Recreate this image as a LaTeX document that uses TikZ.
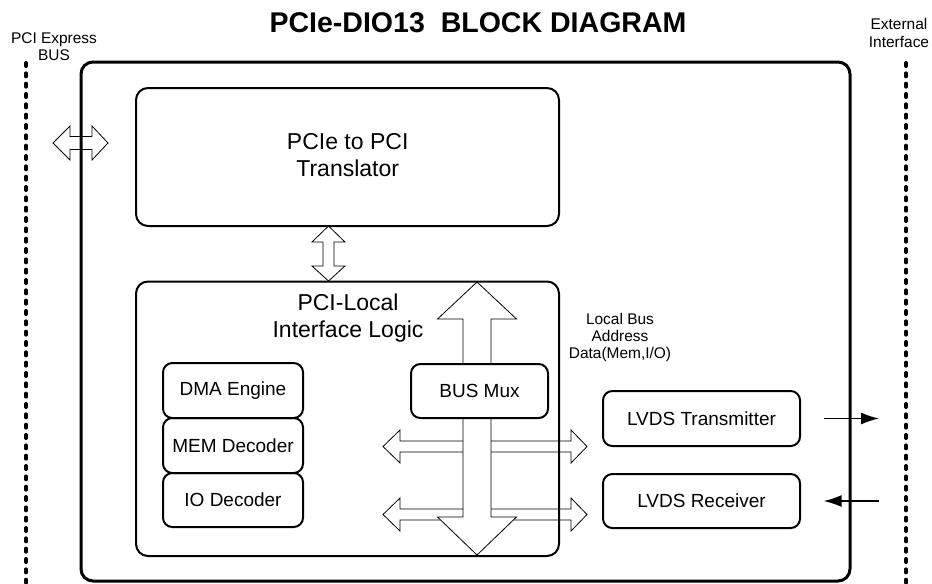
\documentclass[tikz,border=0pt]{standalone}
\usepackage{fontspec}
\setmainfont{Liberation Sans}
\usepackage{xcolor}
\usetikzlibrary{arrows.meta,positioning,fit,calc}
\tikzset{
  vframe/.style={draw=black,line width=2.25pt,rounded corners=9pt,inner sep=0pt},
  vbox/.style={draw=black,line width=1.5pt,rounded corners=7pt,inner sep=0pt,align=center,font=\fontsize{14.25}{17}\selectfont},
  vbig/.style={font=\fontsize{17.25}{20.25}\selectfont,align=center,inner sep=0pt},
  vsmall/.style={font=\fontsize{11.6}{13}\selectfont,align=center,inner sep=0pt},
  vfat/.style={draw=black,line width=0.6pt,line join=miter},
  vbus/.style={line width=3pt,dash pattern=on 2.25pt off 5.5pt,line cap=round},
  varr/.style={-{Latex[length=13.5pt,width=9pt]},line width=1.1pt}
}

\begin{document}
\begin{tikzpicture}[x=0.75pt,y=-0.75pt]
  \useasboundingbox (0,0) rectangle (932,583);
  % headings
  \node[font=\fontsize{21.4}{24}\selectfont\bfseries,inner sep=0pt] (title) at (478,23) {PCIe-DIO13\ \ BLOCK DIAGRAM};
  \node[vsmall] (pcibus) at (54,47) {PCI Express\\BUS};
  \node[vsmall] (extif) at (899,33) {External\\Interface};
  % bus lines on both sides
  \draw[vbus] (26,63) -- (26,583);
  \draw[vbus] (906,63) -- (906,583);
  % PCIe link arrow
  \draw[vfat,fill=white] (53,143) -- (70,126) -- (70,136.5) -- (92,136.5) -- (92,126) -- (108,143)
    -- (92,160) -- (92,149.5) -- (70,149.5) -- (70,160) -- cycle;
  \node[vframe,fit={(81,62) (850,581)}] (board) {};
  % translator
  \node[vbox,rounded corners=9pt,fit={(136,88) (559,226)}] (trans) {};
  \node[vbig] (translbl) at (347.7,155.5) {PCIe to PCI\\Translator};
  \draw[vfat,fill=white] (328.5,226) -- (345,242) -- (334,242) -- (334,266) -- (345,266) -- (328.5,281)
    -- (312,266) -- (323,266) -- (323,242) -- (312,242) -- cycle;
  % local bus arrows
  \foreach \yy in {446.5,514.5}{
    \draw[vfat] (383,\yy) -- (400,\yy-16.5) -- (400,\yy-5.5) -- (571,\yy-5.5) -- (571,\yy-16.5) -- (587,\yy)
      -- (571,\yy+16.5) -- (571,\yy+5.5) -- (400,\yy+5.5) -- (400,\yy+16.5) -- cycle;
  }
  \draw[vfat,fill=white] (477,282) -- (516.5,319) -- (491,319) -- (491,517) -- (516.5,517) -- (477,555)
    -- (437.5,517) -- (463,517) -- (463,319) -- (437.5,319) -- cycle;
  % local interface logic
  \node[vbox,rounded corners=9pt,fit={(136,281.5) (559,556)}] (local) {};
  \node[vbig] (locallbl) at (348,318) {PCI-Local\\Interface Logic};
  \node[vbox,minimum width=105pt,minimum height=41.25pt] (dma) at (233,390.5) {DMA Engine};
  \node[vbox,minimum width=105pt,minimum height=41.25pt] (mem) at (233,445.5) {MEM Decoder};
  \node[vbox,minimum width=105pt,minimum height=40.5pt] (iodec) at (233,500) {IO Decoder};
  \node[vbox,fill=white,minimum width=102.75pt,minimum height=40.5pt] (mux) at (479.5,391) {BUS Mux};
  \node[vsmall] (lbus) at (620,337.5) {Local Bus\\Address\\Data(Mem,I/O)};
  % LVDS
  \node[vbox,minimum width=147.75pt,minimum height=41.25pt] (tx) at (701.5,418.5) {LVDS Transmitter};
  \node[vbox,minimum width=147.75pt,minimum height=40.5pt] (rx) at (701.5,501) {LVDS Receiver};
  \draw[varr] ([xshift=17pt]tx.east) -- ([xshift=58.5pt]tx.east);
  \draw[varr] ([xshift=58.5pt]rx.east) -- ([xshift=17pt]rx.east);
\end{tikzpicture}
\end{document}
